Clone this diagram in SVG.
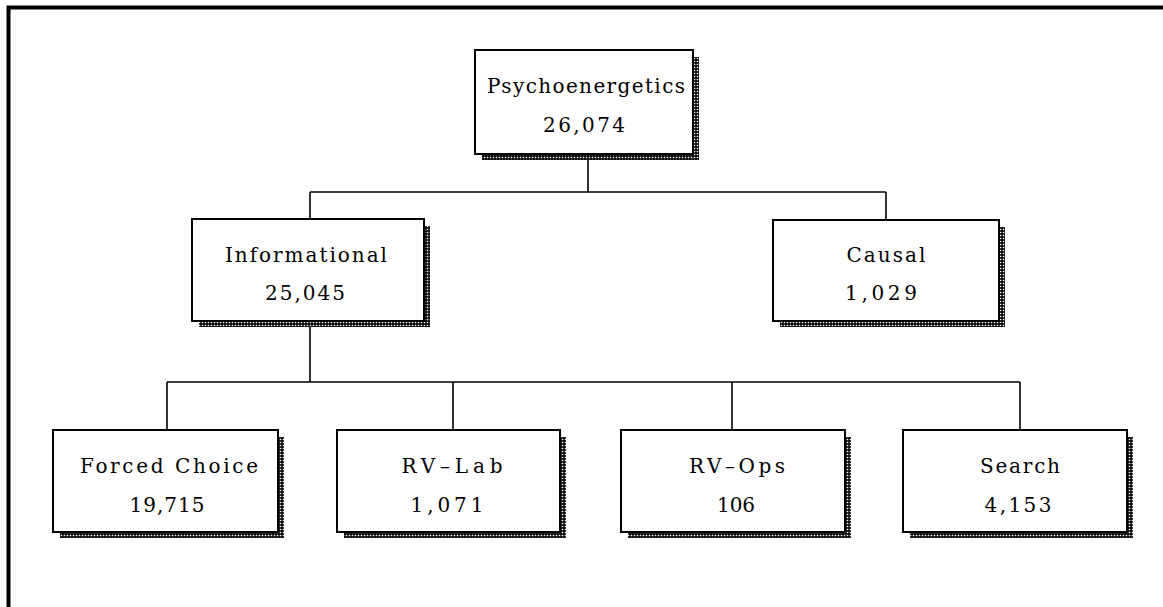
<svg xmlns="http://www.w3.org/2000/svg" width="1163" height="607" viewBox="0 0 1163 607">
<style>
.box{fill:#fff;stroke:#000;stroke-width:2}
.sh{fill:url(#dots)}
.t{font-family:"DejaVu Serif","Liberation Serif",serif;font-size:20px;fill:#000;text-anchor:middle}
.c{fill:none;stroke:#000;stroke-width:1.6}
.frame{fill:none;stroke:#000;stroke-width:4}
</style>
<defs>
<pattern id="dots" width="3" height="3" patternUnits="userSpaceOnUse">
<rect width="3" height="3" fill="#111"/>
<circle cx="1.5" cy="1.5" r="0.8" fill="#fff"/>
</pattern>
</defs>
<rect width="1163" height="607" fill="#fff"/>
<path class="frame" d="M8.5,607 V7.5 H1163"/>
<g id="connectors">
<path class="c" d="M588,160 V192 M310,192 H886 M310,192 V219 M886,192 V220"/>
<path class="c" d="M310,327 V382 M167,382 H1020 M167,382 V430 M453,382 V430 M732,382 V430 M1020,382 V430"/>
</g>
<g id="psychoenergetics">
<rect class="sh" x="693" y="57" width="6" height="103"/>
<rect class="sh" x="482" y="154" width="217" height="6"/>
<rect class="box" x="475" y="50" width="218" height="104"/>
<text class="t" x="586" y="93" textLength="198" lengthAdjust="spacing">Psychoenergetics</text>
<text class="t" x="584" y="132" textLength="82" lengthAdjust="spacing">26,074</text>
</g>
<g id="informational">
<rect class="sh" x="424" y="226" width="6" height="101"/>
<rect class="sh" x="199" y="321" width="231" height="6"/>
<rect class="box" x="192" y="219" width="232" height="102"/>
<text class="t" x="306" y="262" textLength="162" lengthAdjust="spacing">Informational</text>
<text class="t" x="305" y="300" textLength="80" lengthAdjust="spacing">25,045</text>
</g>
<g id="causal">
<rect class="sh" x="999" y="227" width="6" height="100"/>
<rect class="sh" x="780" y="321" width="225" height="6"/>
<rect class="box" x="773" y="220" width="226" height="101"/>
<text class="t" x="886" y="262" textLength="79" lengthAdjust="spacing">Causal</text>
<text class="t" x="881" y="300" textLength="72" lengthAdjust="spacing">1,029</text>
</g>
<g id="forced-choice">
<rect class="sh" x="278" y="437" width="6" height="101"/>
<rect class="sh" x="60" y="532" width="224" height="6"/>
<rect class="box" x="53" y="430" width="225" height="102"/>
<text class="t" x="169" y="473" textLength="178" lengthAdjust="spacing">Forced Choice</text>
<text class="t" x="167" y="512" textLength="75" lengthAdjust="spacing">19,715</text>
</g>
<g id="rv-lab">
<rect class="sh" x="560" y="437" width="6" height="101"/>
<rect class="sh" x="344" y="532" width="222" height="6"/>
<rect class="box" x="337" y="430" width="223" height="102"/>
<text class="t" x="452" y="473" textLength="101" lengthAdjust="spacing">RV–Lab</text>
<text class="t" x="447" y="512" textLength="73" lengthAdjust="spacing">1,071</text>
</g>
<g id="rv-ops">
<rect class="sh" x="845" y="437" width="6" height="101"/>
<rect class="sh" x="628" y="532" width="223" height="6"/>
<rect class="box" x="621" y="430" width="224" height="102"/>
<text class="t" x="737" y="473" textLength="96" lengthAdjust="spacing">RV–Ops</text>
<text class="t" x="736" y="512" textLength="38" lengthAdjust="spacing">106</text>
</g>
<g id="search">
<rect class="sh" x="1127" y="437" width="6" height="101"/>
<rect class="sh" x="910" y="532" width="223" height="6"/>
<rect class="box" x="903" y="430" width="224" height="102"/>
<text class="t" x="1020" y="473" textLength="80" lengthAdjust="spacing">Search</text>
<text class="t" x="1018" y="512" textLength="67" lengthAdjust="spacing">4,153</text>
</g>
</svg>
